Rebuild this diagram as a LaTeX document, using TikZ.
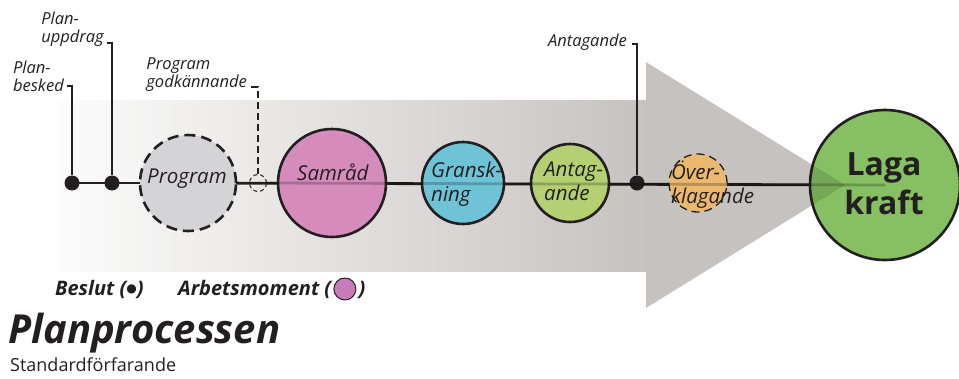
\documentclass[tikz,border=0pt]{standalone}
\usepackage{fontspec}
\setmainfont{Open Sans}
\newfontfamily\dejavu{DejaVu Sans}
\definecolor{txt}{RGB}{35,31,32}
\definecolor{arrowgray}{RGB}{198,194,192}
\definecolor{arrowlight}{RGB}{252,252,252}
\definecolor{progfill}{RGB}{212,212,214}
\definecolor{samfill}{RGB}{214,139,189}
\definecolor{granfill}{RGB}{110,196,214}
\definecolor{antfill}{RGB}{180,208,114}
\definecolor{overfill}{RGB}{235,184,112}
\definecolor{lagafill}{RGB}{134,192,98}
\definecolor{legfill}{RGB}{199,123,184}
\begin{document}
\begin{tikzpicture}[x=1pt,y=-1pt,
  lbl/.style={font=\itshape\fontsize{16.5}{18}\selectfont, text=txt, align=left, inner sep=0pt},
  ctxt/.style={font=\itshape\fontsize{20.5}{24}\selectfont, text=txt, align=left, inner sep=0pt},
  legend/.style={font=\bfseries\itshape\fontsize{20}{22}\selectfont, text=txt, inner sep=0pt},
  stage/.style={circle, draw=txt, line width=2.6pt, inner sep=0pt},
  dot/.style={circle, fill=txt, minimum size=15pt, inner sep=0pt},
  mainline/.style={draw=txt, line width=2.8pt},
  overline/.style={draw=black, line width=2.8pt, opacity=.22},
  conn/.style={draw=txt, line width=1.3pt}]
\useasboundingbox (0,0) rectangle (959,378);
% big arrow
\shade[left color=arrowlight, right color=arrowgray] (57,100) rectangle (646.5,271);
\fill[arrowgray] (646,62) -- (845,185) -- (646,308) -- cycle;
% decision dots
\node[dot] (d1) at (72,183) {};
\node[dot] (d2) at (112,183) {};
\node[dot] (d3) at (637,183) {};
% stage circles
\coordinate (progc) at (188,183);
\coordinate (lagac) at (885,185);
\draw[mainline] (d1.center) -- (progc);
\draw[mainline] (progc) -- (lagac);
\node[stage, fill=progfill, dashed, dash pattern=on 11pt off 6pt, minimum size=96pt] (prog) at (progc) {};
\node[circle, draw=txt, line width=1pt, dashed, dash pattern=on 4pt off 3pt, minimum size=17pt, inner sep=0pt] (godk) at (258,183) {};
\node[stage, fill=samfill, minimum size=108pt] (sam) at (332,183) {};
\node[stage, fill=granfill, minimum size=82pt] (gran) at (463,183) {};
\node[stage, fill=antfill, minimum size=78pt] (ant) at (570,183) {};
\node[stage, fill=overfill, line width=1.3pt, dashed, dash pattern=on 8pt off 5pt, minimum size=58pt] (over) at (698,183) {};
\node[stage, fill=lagafill, minimum size=150pt] (laga) at (lagac) {};
\draw[overline] (godk.east) -- (laga.center);
\begin{scope}
  \clip (lagac) circle (75pt);
  \fill[black, opacity=.12] (646,62) -- (845,185) -- (646,308) -- cycle;
\end{scope}
% texts inside circles
\node[ctxt, anchor=base west] (tprog) at (147,183) {Program};
\node[ctxt, anchor=base west] (tsam) at (297,180) {Samråd};
\node[ctxt, anchor=north west] (tgran) at (431,162) {Gransk-\\ning};
\node[ctxt, anchor=north west] (tant) at (544,162) {Antag-\\ande};
\node[ctxt, anchor=north west] (tover) at (671,161) {Över-\\klagande};
\node[font=\bfseries\fontsize{32}{39}\selectfont, text=txt, align=center, inner sep=0pt] (tlaga) at (884,184) {Laga\\kraft};
% decision labels
\node[lbl, anchor=south east] (lbesk) at (64,92) {Plan-\\besked};
\node[lbl, anchor=south east] (luppd) at (104,47) {Plan-\\uppdrag};
\node[lbl, anchor=south east] (lgodk) at (247,92) {Program\\godkännande};
\node[lbl, anchor=south east] (lant) at (627,51) {Antagande};
\coordinate (t1) at (67,86);
\coordinate (t2) at (107,43);
\coordinate (t3) at (251,87);
\coordinate (t4) at (632,44);
\draw[conn] (t1) -| (d1);
\draw[conn] (t2) -| (d2);
\draw[conn, dashed, dash pattern=on 7pt off 4pt] (t3) -| (godk);
\draw[conn] (t4) -| (d3);
% legend
\node[legend, anchor=base west] (lb) at (55,295) {Beslut (\raisebox{3pt}{\dejavu\fontsize{12}{12}\selectfont●})};
\node[legend, anchor=base west] (la) at (178,295) {Arbetsmoment (};
\node[circle, draw=txt, line width=1pt, fill=legfill, minimum size=22pt, inner sep=0pt, anchor=west] (lc) at ([xshift=2pt]la.east) {};
\node[legend, anchor=base west] (lr) at ([xshift=2pt]lc.east |- la.base) {)};
\node[font=\bfseries\itshape\fontsize{40}{44}\selectfont, text=txt, anchor=base west, inner sep=0pt] (title) at (8,343) {Planprocessen};
\node[font=\fontsize{18}{20}\selectfont, text=txt, anchor=base west, inner sep=0pt] (sub) at (10,371) {Standardförfarande};
\end{tikzpicture}
\end{document}
